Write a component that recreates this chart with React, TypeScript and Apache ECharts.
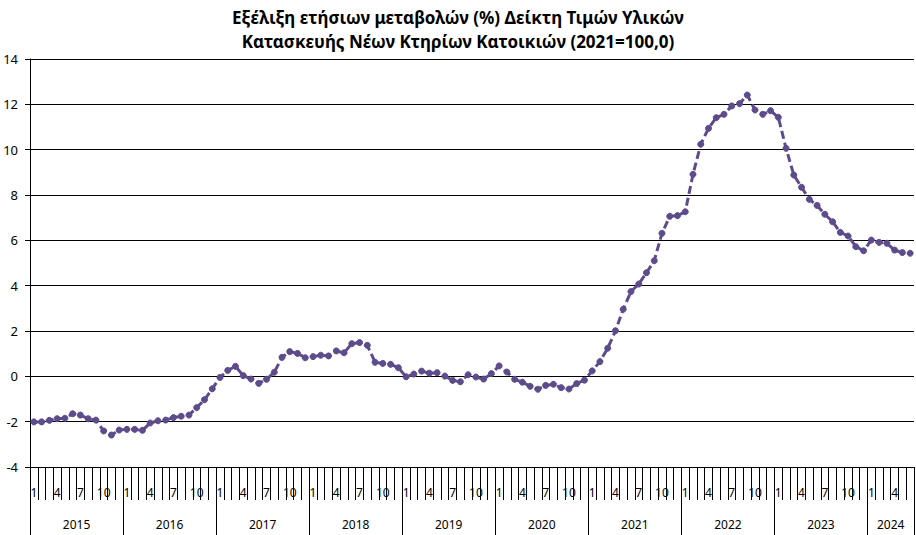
import React, { useEffect, useRef } from "react";
import * as echarts from "echarts";

const titleLines = [
  "Εξέλιξη ετήσιων μεταβολών (%) Δείκτη Τιμών Υλικών",
  "Κατασκευής Νέων Κτηρίων Κατοικιών (2021=100,0)",
];

const years = ["2015", "2016", "2017", "2018", "2019", "2020", "2021", "2022", "2023", "2024"];
const monthsPerYear = [12, 12, 12, 12, 12, 12, 12, 12, 12, 6];
const shownMonths = ["1", "4", "7", "10"];

const v2015 = [-2.01, -2.01, -1.94, -1.87, -1.85, -1.65, -1.71, -1.87, -1.93, -2.41, -2.59, -2.37];
const v2016 = [-2.34, -2.34, -2.38, -2.06, -1.96, -1.93, -1.82, -1.76, -1.71, -1.38, -1.03, -0.55];
const v2017 = [-0.05, 0.26, 0.44, 0.03, -0.12, -0.31, -0.13, 0.18, 0.84, 1.09, 1.01, 0.82];
const v2018 = [0.87, 0.93, 0.9, 1.12, 1.04, 1.44, 1.49, 1.37, 0.62, 0.57, 0.53, 0.38];
const v2019 = [-0.02, 0.1, 0.23, 0.14, 0.16, 0.01, -0.18, -0.24, 0.07, -0.03, -0.12, 0.12];
const v2020 = [0.46, 0.19, -0.13, -0.26, -0.44, -0.57, -0.4, -0.35, -0.5, -0.56, -0.32, -0.17];
const v2021 = [0.24, 0.65, 1.24, 2.01, 2.96, 3.74, 4.07, 4.57, 5.1, 6.31, 7.06, 7.09];
const v2022 = [7.26, 8.91, 10.24, 10.94, 11.41, 11.56, 11.93, 12.03, 12.41, 11.75, 11.56, 11.72];
const v2023 = [11.43, 10.06, 8.88, 8.34, 7.81, 7.54, 7.15, 6.82, 6.35, 6.19, 5.72, 5.54];
const v2024 = [6.01, 5.91, 5.87, 5.57, 5.46, 5.43];

const values = [
  ...v2015, ...v2016, ...v2017, ...v2018, ...v2019,
  ...v2020, ...v2021, ...v2022, ...v2023, ...v2024,
];

export default function App() {
  const ref = useRef<HTMLDivElement>(null);

  useEffect(() => {
    if (!ref.current) return;
    const chart = echarts.init(ref.current, null, { renderer: "svg" });

    const monthCats: string[] = [];
    monthsPerYear.forEach((n) => {
      for (let m = 1; m <= n; m++) monthCats.push(String(m));
    });

    const total = monthCats.length;
    const yearCats: string[] = new Array(total + 1).fill("");
    const tickIdx = new Set<number>();
    const labelIdx = new Set<number>();
    let start = 0;
    monthsPerYear.forEach((n, k) => {
      tickIdx.add(start);
      const center = start + n / 2;
      yearCats[center] = years[k];
      labelIdx.add(center);
      start += n;
    });
    tickIdx.add(start);

    const font = "'Noto Sans', 'Open Sans', sans-serif";

    chart.setOption({
      animation: false,
      title: {
        text: titleLines.join("\n"),
        left: "center",
        top: 0,
        textStyle: {
          fontFamily: font,
          fontWeight: "bold",
          fontSize: 17,
          lineHeight: 24,
          color: "#000",
        },
      },
      grid: { left: 30, right: 2, top: 59, bottom: 68, containLabel: false },
      xAxis: [
        {
          type: "category",
          data: monthCats,
          boundaryGap: true,
          axisLine: { show: true, onZero: false, lineStyle: { color: "#000", width: 1 } },
          axisTick: { show: true, interval: 0, length: 33, lineStyle: { color: "#000", width: 1 } },
          axisLabel: {
            interval: (_i: number, v: string) => shownMonths.includes(v),
            margin: 19,
            fontFamily: font,
            fontSize: 12,
            color: "#000",
          },
          splitLine: { show: false },
        },
        {
          type: "category",
          data: yearCats,
          boundaryGap: false,
          position: "bottom",
          axisLine: { show: false, onZero: false },
          axisTick: {
            show: true,
            interval: (i: number) => tickIdx.has(i),
            length: 70,
            lineStyle: { color: "#000", width: 1 },
          },
          axisLabel: {
            interval: (i: number) => labelIdx.has(i),
            margin: 51,
            fontFamily: font,
            fontSize: 12,
            color: "#000",
          },
          splitLine: { show: false },
        },
      ],
      yAxis: {
        type: "value",
        min: -4,
        max: 14,
        interval: 2,
        axisLine: { show: true, lineStyle: { color: "#000", width: 1 } },
        axisTick: { show: true, length: 5, lineStyle: { color: "#000" } },
        axisLabel: { margin: 12, fontFamily: font, fontSize: 13, color: "#000" },
        splitLine: { show: true, lineStyle: { color: "#000", width: 1 } },
      },
      series: [
        {
          type: "line",
          xAxisIndex: 0,
          data: values,
          symbol: "circle",
          symbolSize: 6,
          showSymbol: true,
          showAllSymbol: true,
          lineStyle: { color: "#5d4b8b", width: 3, type: [8, 4] },
          itemStyle: { color: "#5d4b8b", borderColor: "#5d4b8b" },
        },
      ],
    });

    return () => chart.dispose();
  }, []);

  return (
    <div
      ref={ref}
      style={{ position: "absolute", left: 0, top: 0, width: 916, height: 535 }}
    />
  );
}
